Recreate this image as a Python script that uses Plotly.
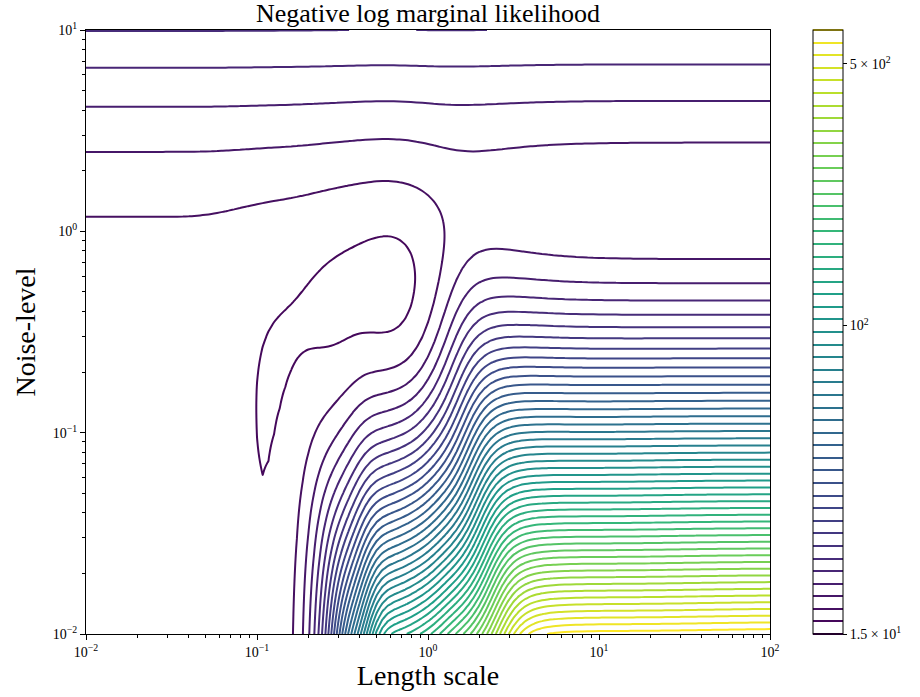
import numpy as np
import plotly.graph_objects as go

# ---- training data of the Gaussian-process model (estimated) ----
x_train = [3.334, 3.430, 1.052, 0.645, 1.577, 1.819, 2.851, 2.193, 4.942, 0.510, 0.960]
y_train = [1.449, 0.529, 0.599, 1.837, -0.105, -2.009, 0.842, -1.265, -0.726, 0.742, -0.200]
signal_variance = 1.0

# ---- hyper-parameter grid ----
length_scale = np.logspace(-2, 2, 121)
noise_level = np.logspace(-2, 1, 121)

# ---- contour levels ----
level_low = 15.0
level_high = 616.0
n_levels = 49

cbar_tickvals = [15.0, 100.0, 500.0]
cbar_ticktext = ["1.5 × 10<sup>1</sup>", "10<sup>2</sup>", "5 × 10<sup>2</sup>"]
x_tickvals = [1e-2, 1e-1, 1e0, 1e1, 1e2]
x_ticktext = ["10<sup>−2</sup>", "10<sup>−1</sup>", "10<sup>0</sup>", "10<sup>1</sup>", "10<sup>2</sup>"]
y_tickvals = [1e-2, 1e-1, 1e0, 1e1]
y_ticktext = ["10<sup>−2</sup>", "10<sup>−1</sup>", "10<sup>0</sup>", "10<sup>1</sup>"]

# ---- negative log marginal likelihood on the grid ----
X = np.asarray(x_train)
Y = np.asarray(y_train)
n = len(X)
D2 = (X[:, None] - X[None, :]) ** 2
LS, NL = np.meshgrid(length_scale, noise_level)
K = signal_variance * np.exp(-D2[None, None] / (2.0 * LS[..., None, None] ** 2)) \
    + NL[..., None, None] * np.eye(n)
Lc = np.linalg.cholesky(K)
Yb = np.broadcast_to(Y, K.shape[:-1])
alpha = np.linalg.solve(K, Yb[..., None])[..., 0]
nll = 0.5 * np.einsum("...i,...i->...", Yb, alpha) \
    + np.log(np.diagonal(Lc, axis1=-2, axis2=-1)).sum(-1) + 0.5 * n * np.log(2 * np.pi)

zlog = np.log10(nll)
lo, hi = np.log10(level_low), np.log10(level_high)
step = (hi - lo) / (n_levels - 1)

font = "Liberation Serif"
fig = go.Figure(go.Contour(
    x=length_scale, y=noise_level, z=zlog,
    colorscale="Viridis", zmin=lo, zmax=hi, zauto=False,
    contours=dict(coloring="lines", start=lo, end=hi + step * 0.01, size=step, showlabels=False),
    line=dict(width=2, smoothing=1.0),
    colorbar=dict(
        x=(813 - 86) / 684, xanchor="left", xpad=0, ypad=0,
        thickness=30, thicknessmode="pixels", len=1.0, lenmode="fraction",
        y=0.5, yanchor="middle",
        outlinewidth=1, outlinecolor="black",
        tickmode="array", tickvals=[np.log10(v) for v in cbar_tickvals], ticktext=cbar_ticktext,
        ticks="outside", ticklen=4, tickcolor="black",
        tickfont=dict(family=font, size=14, color="black"),
    ),
    hoverinfo="skip",
))

axis_common = dict(
    type="log", showgrid=False, zeroline=False, showline=True, linecolor="black", linewidth=1,
    mirror=True, ticks="outside", ticklen=5, tickcolor="black", tickwidth=1,
    tickfont=dict(family=font, size=14, color="black"),
    minor=dict(ticks="outside", ticklen=3, tickcolor="black", tickwidth=0.8, dtick="D1", showgrid=False),
)
fig.update_layout(
    width=920, height=697,
    margin=dict(l=86, r=150, t=30, b=63),
    paper_bgcolor="white", plot_bgcolor="white",
    title=dict(text="Negative log marginal likelihood", x=(428) / 920, xanchor="center",
               y=1 - 13 / 697, yanchor="middle", font=dict(family=font, size=26, color="black")),
    xaxis=dict(axis_common, range=[-2, 2], tickmode="array", tickvals=x_tickvals, ticktext=x_ticktext,
               title=dict(text="Length scale", font=dict(family=font, size=28, color="black"), standoff=5)),
    yaxis=dict(axis_common, range=[-2, 1], tickmode="array", tickvals=y_tickvals, ticktext=y_ticktext,
               title=dict(text="Noise-level", font=dict(family=font, size=28, color="black"), standoff=8)),
    showlegend=False,
)
fig.write_html("out.html")
